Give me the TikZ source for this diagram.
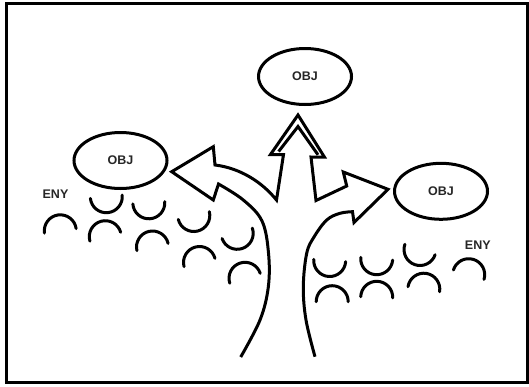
\documentclass[tikz,border=0pt]{standalone}
\usepackage{fontspec}
\setmainfont{Liberation Sans}
\usetikzlibrary{shapes.geometric}

\tikzset{
  ink/.style={line width=3pt, black, line join=miter, miter limit=10},
  obj/.style={ink, draw, ellipse, minimum width=93pt, minimum height=56pt,
              inner sep=0pt, font=\fontsize{12.5}{14}\selectfont\bfseries,
              text=black!85},
  lbl/.style={font=\fontsize{12.5}{14}\selectfont\bfseries, text=black!85,
              inner sep=0pt},
  arcline/.style={line width=3pt, black, line cap=round},
}

% cup: half circle open upwards; cap: half circle open downwards
\newcommand{\cupat}[3]{%
  \draw[arcline, rotate around={#3:(#1,#2)}] (#1-16,#2) arc[start angle=180, end angle=360, radius=16pt];}
\newcommand{\capat}[3]{%
  \draw[arcline, rotate around={#3:(#1,#2)}] (#1-16,#2) arc[start angle=180, end angle=0, radius=16pt];}

\begin{document}
\begin{tikzpicture}[x=1pt, y=-1pt]
\useasboundingbox (0,0) rectangle (529,386);

% frame
\draw[line width=3pt] (6.5,3) rectangle (527.5,382.5);

% goals
\node[obj] (top)   at (305,76.5)  {OBJ};
\node[obj] (left)  at (120.5,160.5) {OBJ};
\node[obj] (right) at (441,191.3) {OBJ};

% obstacle labels
\node[lbl] (enyL) at (55.5,193.8) {ENY};
\node[lbl] (enyR) at (477.8,245.3) {ENY};

% branching arrow outline
\draw[ink]
  (240.7,357) -- plot[smooth, tension=0.6] coordinates {
     (240.7,357) (260,320) (268.3,287) (268.5,253) (262,221) (243.3,200) (218.5,184)}
  -- (213.3,200) -- (171.7,171.7) -- (213.3,146.7) -- (215,165)
  .. controls (240,168) and (262,182) .. (276.5,200)
  -- (283.5,154.5) -- (270.5,154.5) -- (298,115) -- (324.5,157.2) -- (311,157)
  -- (316,200.5) -- (346.7,186) -- (343.3,172) -- (388,189.3) -- (354,222.5)
  -- (352.5,211.7)
  -- plot[smooth, tension=0.6] coordinates {
     (352.5,211.7) (340,213.3) (326.7,220) (314,237) (306.7,253.3)
     (303.3,286.7) (306,320) (315,356.7)};

% inner line of the central arrow head
\draw[ink] (278.6,151.5) -- (298,126.5) -- (318,154.8);

% obstacles, left group
\cupat{106.3}{196.7}{6}
\cupat{148.8}{202.8}{4}
\cupat{193.8}{215.5}{14}
\cupat{237.2}{233.3}{19}
\capat{60.3}{230.8}{8}
\capat{105.3}{236.7}{16}
\capat{152.5}{247}{13}
\capat{199.5}{262.5}{15}
\capat{245}{278.3}{18}

% obstacles, right group
\cupat{329.7}{260.5}{-4}
\cupat{376.7}{258.7}{-5}
\cupat{420}{249.5}{-19}
\capat{332.2}{301.7}{0}
\capat{376.7}{297.3}{-2}
\capat{423.8}{289.2}{-9}
\capat{468.7}{274.7}{-17}
\end{tikzpicture}
\end{document}
